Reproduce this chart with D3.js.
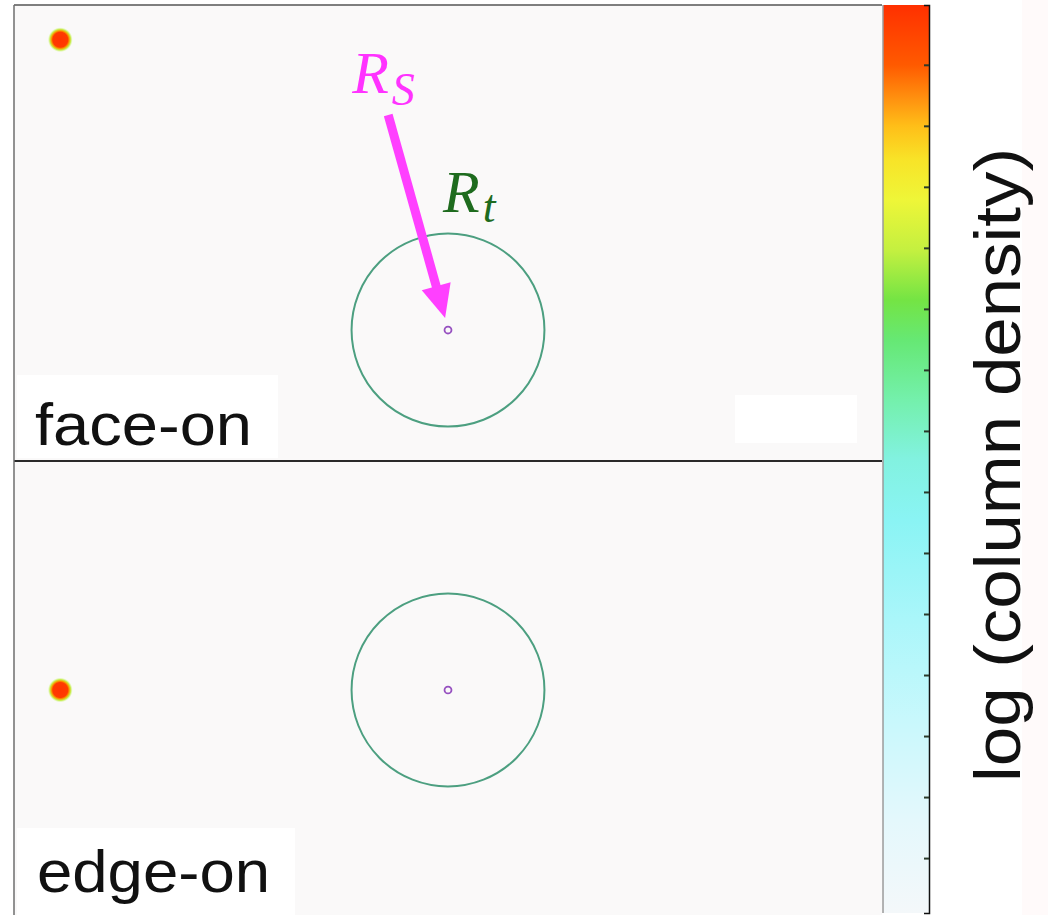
<!DOCTYPE html>
<html>
<head>
<meta charset="utf-8">
<script src="https://cdn.jsdelivr.net/npm/d3@7"></script>
<style>
  html, body { margin: 0; padding: 0; background: #ffffff; }
  svg { display: block; }
</style>
</head>
<body>
<div id="chart"></div>
<script>
// Projected views of the binary: one row per viewing angle
const panelNames = ["face-on", "edge-on"];
// companion position (orbital units) in each projection
const companionX = [-4.02, -4.02];
const companionY = [3.01, 0.0];
// tidal radius and sink radius of the central object
const tidalRadius = 1.0;
const sinkRadius = 0.036;
// vertical window of each projection (top, bottom) in orbital units
const viewTop = [3.37, 2.374];
const viewBottom = [-1.358, -2.374];
// arrow from the R_S label down to the sink
const arrowFrom = [-0.62, 2.23];
const arrowTo = [-0.03, 0.125];

// colour bar: stop offsets (0 = top) and colours
const cbOffsets = [0.00, 0.066, 0.105, 0.133, 0.171, 0.215, 0.27, 0.325, 0.369, 0.435, 0.50, 0.567, 0.677, 0.787, 0.898, 1.0];
const cbColors  = ["#ff3000", "#ff5a00", "#ff9410", "#ffbe18", "#f8e428", "#eef638", "#c4f040", "#74e444",
                   "#66e874", "#74f0ac", "#82f2e0", "#8af4f4", "#aaf6fa", "#c8f8fc", "#e4f8fc", "#f4f8fa"];
const cbDomain = [-0.9, 13.98];
const cbTicks = [0, 1, 2, 3, 4, 5, 6, 7, 8, 9, 10, 11, 12, 13];
const cbLabel = "log (column density)";

const W = 1048, H = 915;
const frame = { left: 14, right: 882, top: 5, split: 461, bottom: 919 };
const cb = { x0: 883, x1: 929, top: 5, bottom: 913 };

const svg = d3.select("#chart").append("svg")
  .attr("width", W).attr("height", H)
  .attr("viewBox", `0 0 ${W} ${H}`);

const defs = svg.append("defs");

// faint tint at the far right edge
svg.append("rect").attr("x", 1022).attr("y", 0).attr("width", 26).attr("height", H)
  .attr("fill", "#fffafa");

// horizontal scale shared by both projections
const x = d3.scaleLinear().domain([-4.5, 4.5]).range([frame.left, frame.right]);

// companion glow
const glow = defs.append("radialGradient").attr("id", "glow");
[[0, "#ff3300"], [0.6, "#ff3a00"], [0.72, "#f5a000"], [0.84, "#c8ee50"], [1, "rgba(220,250,180,0)"]]
  .forEach(([o, c]) => glow.append("stop").attr("offset", o).attr("stop-color", c));

const panelTops = [frame.top, frame.split];
const panelBottoms = [frame.split, frame.bottom];

panelNames.forEach((name, i) => {
  const y = d3.scaleLinear().domain([viewTop[i], viewBottom[i]]).range([panelTops[i], panelBottoms[i]]);
  const clipId = "clip" + i;
  defs.append("clipPath").attr("id", clipId)
    .append("rect").attr("x", frame.left).attr("y", panelTops[i])
    .attr("width", frame.right - frame.left).attr("height", panelBottoms[i] - panelTops[i]);

  const g = svg.append("g").attr("clip-path", `url(#${clipId})`);
  g.append("rect").attr("x", frame.left).attr("y", panelTops[i])
    .attr("width", frame.right - frame.left).attr("height", panelBottoms[i] - panelTops[i])
    .attr("fill", "#faf9f9");

  const pxPerUnit = x(1) - x(0);

  // tidal radius
  g.append("circle").attr("cx", x(0)).attr("cy", y(0)).attr("r", tidalRadius * pxPerUnit)
    .attr("fill", "none").attr("stroke", "#4c9f80").attr("stroke-width", 2);
  // sink radius
  g.append("circle").attr("cx", x(0)).attr("cy", y(0)).attr("r", sinkRadius * pxPerUnit)
    .attr("fill", "none").attr("stroke", "#9650c0").attr("stroke-width", 1.8);
  // companion
  g.append("circle").attr("cx", x(companionX[i])).attr("cy", y(companionY[i])).attr("r", 12.5)
    .attr("fill", "url(#glow)");

  if (i === 0) {
    // blank patch on the face-on view
    g.append("rect").attr("x", 735).attr("y", 395).attr("width", 122).attr("height", 48).attr("fill", "#ffffff");

    // arrow pointing at the sink
    const p0 = [x(arrowFrom[0]), y(arrowFrom[1])];
    const p1 = [x(arrowTo[0]), y(arrowTo[1])];
    const dx = p1[0] - p0[0], dy = p1[1] - p0[1];
    const len = Math.hypot(dx, dy);
    const ux = dx / len, uy = dy / len;
    const headLen = 33, headHalf = 15;
    const base = [p1[0] - ux * headLen, p1[1] - uy * headLen];
    g.append("line").attr("x1", p0[0]).attr("y1", p0[1])
      .attr("x2", base[0] + ux * 2).attr("y2", base[1] + uy * 2)
      .attr("stroke", "#ff40ff").attr("stroke-width", 9);
    g.append("path")
      .attr("d", `M${p1[0]},${p1[1]}L${base[0] - uy * headHalf},${base[1] + ux * headHalf}L${base[0] + uy * headHalf},${base[1] - ux * headHalf}Z`)
      .attr("fill", "#ff40ff");

    // R_S label
    const rs = g.append("text").attr("x", p0[0] - 36).attr("y", p0[1] - 22)
      .attr("font-family", "'Liberation Serif', 'DejaVu Serif', serif").attr("font-style", "italic")
      .attr("fill", "#ff33ff").attr("font-size", 60);
    rs.append("tspan").text("R");
    rs.append("tspan").attr("font-size", 46).attr("dy", 12).attr("dx", 3).text("S");

    // R_t label
    const rt = g.append("text").attr("x", x(0) - 5).attr("y", y(0) - 118)
      .attr("font-family", "'Liberation Serif', 'DejaVu Serif', serif").attr("font-style", "italic")
      .attr("fill", "#1e6b1e").attr("font-size", 60);
    rt.append("tspan").text("R");
    rt.append("tspan").attr("font-size", 46).attr("dy", 10).attr("dx", 3).text("t");
  }

  // view label on a white box
  const box = i === 0 ? { x: 17, y: 375, w: 261, h: 83, tx: 35, ty: 445, tl: 217 }
                      : { x: 17, y: 828, w: 278, h: 90, tx: 37, ty: 892, tl: 233 };
  g.append("rect").attr("x", box.x).attr("y", box.y).attr("width", box.w).attr("height", box.h).attr("fill", "#ffffff");
  g.append("text").attr("x", box.tx).attr("y", box.ty)
    .attr("font-family", "'Liberation Sans', Arial, sans-serif").attr("font-size", 59)
    .attr("textLength", box.tl).attr("lengthAdjust", "spacingAndGlyphs")
    .attr("fill", "#111111").text(name);
});

// frame lines
svg.append("line").attr("x1", frame.left).attr("x2", frame.right).attr("y1", frame.top).attr("y2", frame.top)
  .attr("stroke", "#555555").attr("stroke-width", 1.5);
svg.append("line").attr("x1", frame.left).attr("x2", frame.right).attr("y1", frame.split).attr("y2", frame.split)
  .attr("stroke", "#2a2a2a").attr("stroke-width", 2.2);
svg.append("line").attr("x1", frame.left).attr("x2", frame.left).attr("y1", frame.top).attr("y2", H)
  .attr("stroke", "#6e6e6e").attr("stroke-width", 1.5);

// colour bar
const grad = defs.append("linearGradient").attr("id", "cbgrad")
  .attr("x1", 0).attr("y1", 0).attr("x2", 0).attr("y2", 1);
cbOffsets.forEach((o, k) => grad.append("stop").attr("offset", o).attr("stop-color", cbColors[k]));

svg.append("rect").attr("x", cb.x0).attr("y", cb.top).attr("width", cb.x1 - cb.x0).attr("height", cb.bottom - cb.top)
  .attr("fill", "url(#cbgrad)");
svg.append("line").attr("x1", cb.x0).attr("x2", cb.x0).attr("y1", cb.top).attr("y2", cb.bottom)
  .attr("stroke", "#9a9a9a").attr("stroke-width", 1.5);

const cbScale = d3.scaleLinear().domain(cbDomain).range([cb.bottom, cb.top]);
const cbAxis = d3.axisLeft(cbScale).tickValues(cbTicks).tickSize(5).tickFormat("");
const axG = svg.append("g").attr("transform", `translate(${cb.x1},0)`).call(cbAxis);
axG.select(".domain").attr("stroke", "#111111").attr("stroke-width", 1.5);
axG.selectAll(".tick line").attr("stroke", "#2a3a2a").attr("stroke-width", 2);

// colour bar label
svg.append("text")
  .attr("transform", `translate(1020, ${(148 + 782) / 2}) rotate(-90)`)
  .attr("text-anchor", "middle")
  .attr("font-family", "'Liberation Sans', Arial, sans-serif").attr("font-size", 64)
  .attr("textLength", 634).attr("lengthAdjust", "spacingAndGlyphs")
  .attr("fill", "#111111").text(cbLabel);
</script>
</body>
</html>
